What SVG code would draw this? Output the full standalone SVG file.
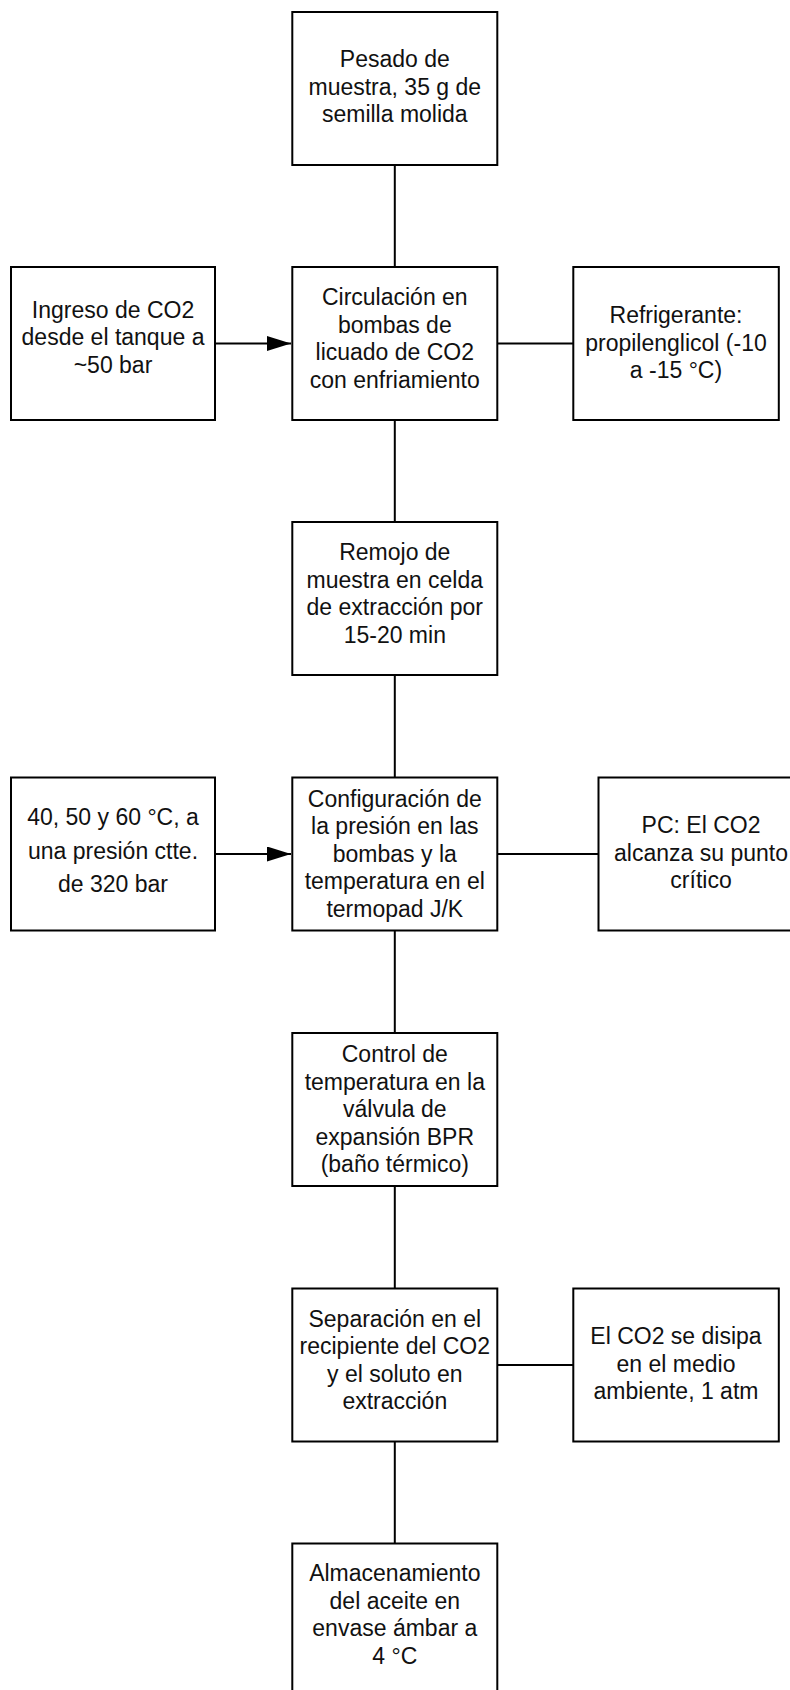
<svg xmlns="http://www.w3.org/2000/svg" width="790" height="1690" viewBox="0 0 790 1690">
<style>
.box{fill:#ffffff;stroke:#000000;stroke-width:2}
.lbl{font-family:"Liberation Sans",Arial,sans-serif;font-size:23px;fill:#111111;text-anchor:middle}
.conn{stroke:#000000;stroke-width:2;fill:none}
</style>
<defs>
<marker id="arrow" markerUnits="userSpaceOnUse" markerWidth="24" markerHeight="15" refX="24" refY="7.5" orient="auto">
<path d="M0,0 L24,7.5 L0,15 Z" fill="#000000"/>
</marker>
</defs>
<rect width="790" height="1690" fill="#ffffff"/>
<g id="connectors">
<line class="conn" x1="394.8" y1="165" x2="394.8" y2="267"/>
<line class="conn" x1="394.8" y1="420" x2="394.8" y2="522"/>
<line class="conn" x1="394.8" y1="675" x2="394.8" y2="777.5"/>
<line class="conn" x1="394.8" y1="930.5" x2="394.8" y2="1033"/>
<line class="conn" x1="394.8" y1="1186" x2="394.8" y2="1288.5"/>
<line class="conn" x1="394.8" y1="1441.5" x2="394.8" y2="1543.5"/>
<line class="conn" x1="215" y1="343.5" x2="291" y2="343.5" marker-end="url(#arrow)"/>
<line class="conn" x1="497" y1="343.5" x2="573" y2="343.5"/>
<line class="conn" x1="215" y1="854" x2="291" y2="854" marker-end="url(#arrow)"/>
<line class="conn" x1="497" y1="854" x2="598.5" y2="854"/>
<line class="conn" x1="497" y1="1365" x2="573" y2="1365"/>
</g>
<g id="n-pesado">
<rect class="box" x="292.3" y="12" width="205" height="153"/>
<text class="lbl" x="394.8" y="67">Pesado de</text>
<text class="lbl" x="394.8" y="94.5">muestra, 35 g de</text>
<text class="lbl" x="394.8" y="122">semilla molida</text>
</g>
<g id="n-ingreso">
<rect class="box" x="11" y="267" width="204" height="153"/>
<text class="lbl" x="113" y="317.5">Ingreso de CO2</text>
<text class="lbl" x="113" y="345">desde el tanque a</text>
<text class="lbl" x="113" y="372.5">~50 bar</text>
</g>
<g id="n-circulacion">
<rect class="box" x="292.3" y="267" width="205" height="153"/>
<text class="lbl" x="394.8" y="305.3">Circulación en</text>
<text class="lbl" x="394.8" y="332.8">bombas de</text>
<text class="lbl" x="394.8" y="360.3">licuado de CO2</text>
<text class="lbl" x="394.8" y="387.8">con enfriamiento</text>
</g>
<g id="n-refrigerante">
<rect class="box" x="573.3" y="267" width="205.5" height="153"/>
<text class="lbl" x="676" y="323">Refrigerante:</text>
<text class="lbl" x="676" y="350.5">propilenglicol (-10</text>
<text class="lbl" x="676" y="378">a -15 °C)</text>
</g>
<g id="n-remojo">
<rect class="box" x="292.3" y="522" width="205" height="153"/>
<text class="lbl" x="394.8" y="560.3">Remojo de</text>
<text class="lbl" x="394.8" y="587.8">muestra en celda</text>
<text class="lbl" x="394.8" y="615.3">de extracción por</text>
<text class="lbl" x="394.8" y="642.8">15-20 min</text>
</g>
<g id="n-temperaturas">
<rect class="box" x="11" y="777.5" width="204" height="153"/>
<text class="lbl" x="113" y="825.2">40, 50 y 60 °C, a</text>
<text class="lbl" x="113" y="858.5">una presión ctte.</text>
<text class="lbl" x="113" y="891.8">de 320 bar</text>
</g>
<g id="n-configuracion">
<rect class="box" x="292.3" y="777.5" width="205" height="153"/>
<text class="lbl" x="394.8" y="806.9">Configuración de</text>
<text class="lbl" x="394.8" y="834.4">la presión en las</text>
<text class="lbl" x="394.8" y="861.9">bombas y la</text>
<text class="lbl" x="394.8" y="889.4">temperatura en el</text>
<text class="lbl" x="394.8" y="916.9">termopad J/K</text>
</g>
<g id="n-pc">
<rect class="box" x="598.5" y="777.5" width="205" height="153"/>
<text class="lbl" x="701" y="833">PC: El CO2</text>
<text class="lbl" x="701" y="860.5">alcanza su punto</text>
<text class="lbl" x="701" y="888">crítico</text>
</g>
<g id="n-control">
<rect class="box" x="292.3" y="1033" width="205" height="153"/>
<text class="lbl" x="394.8" y="1062.2">Control de</text>
<text class="lbl" x="394.8" y="1089.7">temperatura en la</text>
<text class="lbl" x="394.8" y="1117.2">válvula de</text>
<text class="lbl" x="394.8" y="1144.7">expansión BPR</text>
<text class="lbl" x="394.8" y="1172.2">(baño térmico)</text>
</g>
<g id="n-separacion">
<rect class="box" x="292.3" y="1288.5" width="205" height="153"/>
<text class="lbl" x="394.8" y="1326.8">Separación en el</text>
<text class="lbl" x="394.8" y="1354.3">recipiente del CO2</text>
<text class="lbl" x="394.8" y="1381.8">y el soluto en</text>
<text class="lbl" x="394.8" y="1409.3">extracción</text>
</g>
<g id="n-disipa">
<rect class="box" x="573.3" y="1288.5" width="205.5" height="153"/>
<text class="lbl" x="676" y="1344.1">El CO2 se disipa</text>
<text class="lbl" x="676" y="1371.6">en el medio</text>
<text class="lbl" x="676" y="1399.1">ambiente, 1 atm</text>
</g>
<g id="n-almacenamiento">
<rect class="box" x="292.3" y="1543.5" width="205" height="153"/>
<text class="lbl" x="394.8" y="1581">Almacenamiento</text>
<text class="lbl" x="394.8" y="1608.5">del aceite en</text>
<text class="lbl" x="394.8" y="1636">envase ámbar a</text>
<text class="lbl" x="394.8" y="1663.5">4 °C</text>
</g>
</svg>
